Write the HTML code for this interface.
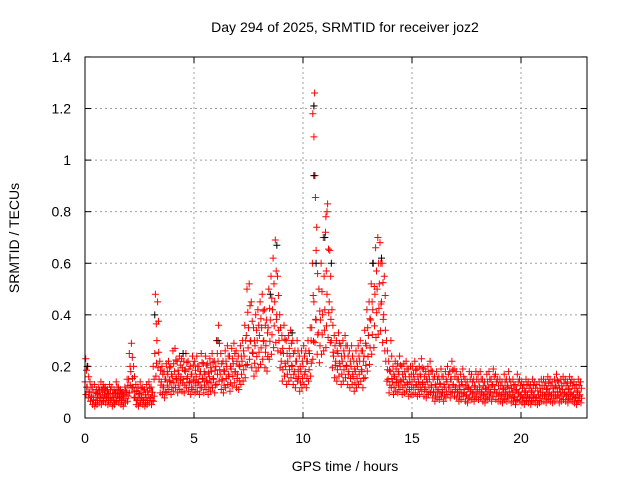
<!DOCTYPE html>
<html><head><meta charset="utf-8"><style>
body{margin:0;background:#fff}
svg{display:block;font-family:"Liberation Sans",sans-serif}
</style></head><body>
<svg id="chart" width="640" height="480" viewBox="0 0 640 480">
<text x="345" y="32" font-size="14" text-anchor="middle">Day 294 of 2025, SRMTID for receiver joz2</text>
<text x="345" y="471" font-size="14" text-anchor="middle">GPS time / hours</text>
<text transform="translate(19,238) rotate(-90)" font-size="14" text-anchor="middle">SRMTID / TECUs</text>
<g id="grid"></g><g id="ticks"></g><g id="pts"></g>
<rect x="85" y="57" width="502" height="361" fill="none" stroke="#000"/>
</svg>
<script>
const xTicks=[0,5,10,15,20];
const yTicks=[0,0.2,0.4,0.6,0.8,1,1.2,1.4];
const yTickLabels=["0","0.2","0.4","0.6","0.8","1","1.2","1.4"];
const midVals=[0.14,0.12,0.10,0.08,0.07,0.08,0.09,0.08,0.10,0.09,
0.08,0.09,0.07,0.08,0.10,0.09,0.08,0.07,0.09,0.10,
0.15,0.18,0.12,0.08,0.07,0.09,0.08,0.07,0.08,0.09,
0.08,0.10,0.25,0.30,0.15,0.14,0.12,0.15,0.17,0.14,
0.16,0.18,0.15,0.17,0.16,0.15,0.18,0.16,0.14,0.17,
0.15,0.16,0.14,0.18,0.15,0.17,0.14,0.16,0.18,0.15,
0.20,0.22,0.17,0.15,0.18,0.20,0.16,0.19,0.21,0.18,
0.17,0.20,0.22,0.24,0.32,0.35,0.30,0.25,0.28,0.30,
0.32,0.35,0.30,0.28,0.35,0.38,0.42,0.45,0.40,0.30,
0.22,0.25,0.20,0.22,0.24,0.20,0.18,0.22,0.16,0.18,
0.20,0.18,0.22,0.25,0.35,0.45,0.38,0.33,0.38,0.40,
0.42,0.48,0.45,0.30,0.24,0.22,0.25,0.20,0.22,0.24,
0.20,0.18,0.20,0.16,0.18,0.20,0.22,0.18,0.24,0.28,
0.32,0.38,0.42,0.48,0.50,0.52,0.45,0.40,0.22,0.15,
0.18,0.14,0.16,0.15,0.17,0.14,0.15,0.16,0.13,0.14,
0.14,0.15,0.13,0.14,0.16,0.13,0.12,0.14,0.15,0.12,
0.10,0.12,0.11,0.13,0.10,0.12,0.14,0.12,0.15,0.13,
0.12,0.10,0.11,0.13,0.10,0.09,0.12,0.11,0.10,0.12,
0.11,0.12,0.10,0.09,0.11,0.12,0.10,0.13,0.11,0.10,
0.10,0.09,0.11,0.10,0.12,0.09,0.10,0.08,0.11,0.10,
0.09,0.08,0.10,0.09,0.08,0.10,0.09,0.08,0.09,0.10,
0.10,0.09,0.11,0.10,0.09,0.10,0.12,0.09,0.10,0.11,
0.10,0.09,0.11,0.10,0.09,0.08,0.10,0.09];
const highVals=[0.23,0.20,0.14,0.12,0.13,0.11,0.12,0.14,0.13,0.12,
0.11,0.13,0.12,0.11,0.14,0.12,0.11,0.10,0.12,0.15,
0.25,0.29,0.20,0.13,0.12,0.14,0.12,0.11,0.13,0.14,
0.12,0.20,0.48,0.45,0.22,0.20,0.18,0.21,0.22,0.20,
0.26,0.27,0.22,0.24,0.23,0.22,0.25,0.22,0.20,0.24,
0.22,0.24,0.20,0.25,0.21,0.24,0.21,0.23,0.25,0.22,
0.30,0.36,0.25,0.22,0.26,0.28,0.24,0.27,0.29,0.26,
0.24,0.28,0.30,0.36,0.50,0.52,0.45,0.35,0.40,0.42,
0.45,0.48,0.42,0.38,0.50,0.55,0.62,0.69,0.55,0.40,
0.32,0.36,0.30,0.32,0.34,0.30,0.26,0.30,0.24,0.26,
0.28,0.26,0.30,0.35,0.60,1.26,0.74,0.50,0.60,0.70,
0.72,0.83,0.65,0.42,0.32,0.30,0.33,0.28,0.30,0.32,
0.28,0.26,0.28,0.22,0.26,0.28,0.30,0.26,0.34,0.42,
0.45,0.52,0.60,0.66,0.70,0.68,0.60,0.55,0.30,0.22,
0.30,0.20,0.22,0.21,0.24,0.20,0.21,0.22,0.19,0.20,
0.20,0.22,0.19,0.20,0.23,0.19,0.18,0.20,0.22,0.18,
0.16,0.18,0.16,0.19,0.16,0.18,0.20,0.18,0.22,0.19,
0.18,0.15,0.17,0.19,0.15,0.14,0.18,0.17,0.15,0.18,
0.17,0.18,0.15,0.14,0.17,0.18,0.15,0.19,0.17,0.15,
0.15,0.14,0.17,0.15,0.18,0.14,0.15,0.13,0.17,0.15,
0.14,0.13,0.15,0.14,0.13,0.15,0.14,0.13,0.14,0.15,
0.15,0.14,0.16,0.15,0.14,0.15,0.17,0.14,0.15,0.16,
0.15,0.14,0.16,0.15,0.14,0.13,0.15,0.14];
const peakTimes=[10.45,10.5,10.5,10.55,10.6,11.05,11.1];
const peakVals=[1.18,1.21,1.09,0.94,0.65,0.78,0.80];
const blackTimes=[0.1,3.2,8.8,10.5,10.5,10.6,11.0,11.3,13.2,13.6,8.5,9.5,4.5,6.1];
const blackVals=[0.2,0.40,0.67,1.21,0.94,0.6,0.7,0.6,0.6,0.62,0.48,0.33,0.25,0.3];

const X0=85,XS=21.8,Y0=418,YS=257.9;
const xs=t=>X0+t*XS, ys=v=>Y0-v*YS;
const NS="http://www.w3.org/2000/svg";
function mk(tag,attrs,parent){const e=document.createElementNS(NS,tag);for(const k in attrs)e.setAttribute(k,attrs[k]);parent.appendChild(e);return e;}
const grid=document.getElementById('grid'),ticks=document.getElementById('ticks'),pts=document.getElementById('pts');
xTicks.forEach(t=>{
  const x=xs(t);
  if(t>0){const g=mk('line',{x1:x,x2:x,y1:57,y2:418,stroke:'#a0a0a0','stroke-dasharray':'2,3'},grid);
  
  }
  mk('line',{x1:x,x2:x,y1:418,y2:412,stroke:'#000'},ticks);
  mk('line',{x1:x,x2:x,y1:57,y2:63,stroke:'#000'},ticks);
  const l=mk('text',{x:x,y:443,'font-size':14,'text-anchor':'middle'},ticks);l.textContent=t;
  
  
});
yTicks.forEach((v,i)=>{
  const y=ys(v);
  if(v>0&&v<1.4){const g=mk('line',{x1:85,x2:587,y1:y,y2:y,stroke:'#a0a0a0','stroke-dasharray':'2,3'},grid);
  
  }
  mk('line',{x1:85,x2:91,y1:y,y2:y,stroke:'#000'},ticks);
  mk('line',{x1:587,x2:581,y1:y,y2:y,stroke:'#000'},ticks);
  const l=mk('text',{x:71,y:y+5,'font-size':14,'text-anchor':'end'},ticks);l.textContent=yTickLabels[i];
  
  
});
let d='';
const plus=(t,v)=>{const x=xs(t),y=ys(v);d+=`M${(x-3.5).toFixed(1)} ${y.toFixed(1)}h7M${x.toFixed(1)} ${(y-3.5).toFixed(1)}v7`;};
midVals.forEach((m,i)=>{
  const t=i/10,h=highVals[i];
  plus(t,m);plus(t+0.05,m*0.65);plus(t+0.03,h);plus(t+0.07,(m+h)/2);
  plus(t+0.08,m*0.85);
});
peakTimes.forEach((t,i)=>plus(t,peakVals[i]));
const red=mk('path',{d:d,stroke:'#ff0000','stroke-width':1,fill:'none'},pts);


let db='';
blackTimes.forEach((t,i)=>{const x=xs(t),y=ys(blackVals[i]);db+=`M${x-3.5} ${y}h7M${x} ${y-3.5}v7`;});
const blk=mk('path',{d:db,stroke:'#000','stroke-width':1,fill:'none'},pts);


</script>
</body></html>
